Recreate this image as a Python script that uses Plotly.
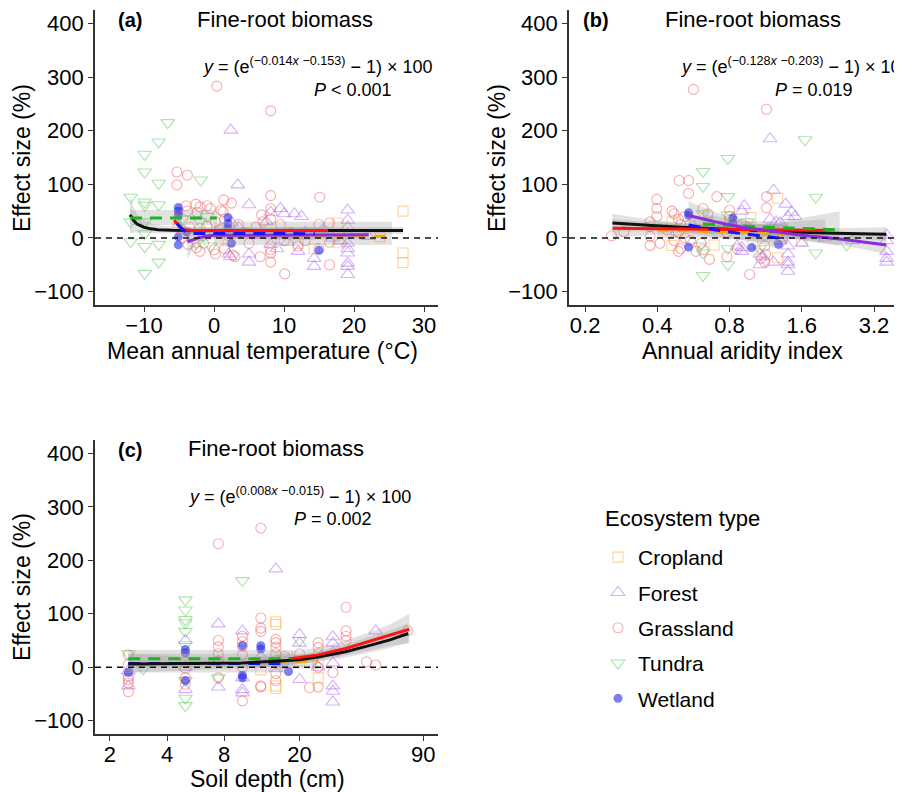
import plotly.graph_objects as go

# ---------------- DATA ----------------
TYPES = ["Cropland", "Forest", "Grassland", "Tundra", "Wetland"]

# Panel (a): mean annual temperature (°C)
A_CROP_X = [27, 27, 27, 17.7, 17.7, 14.3, 23.7, 8.1, 2.0, 12.0]
A_CROP_Y = [50, -28, -46, 28, -9, -20, 2, 0, -5, -10]
A_FOR_X = [2.4, 3.4, 5.0, 8.1, 9.5, 10.0, 11.5, 12.5, 19.1, 19.1, 19.1, 19.1, 19.1, 19.1, 19.1, 19.1, 19.1, 19.1,
           2.1, 2.3, 5.0, 5.0, 8.1, 9.0, 14.3, 14.3, 22.0, 3.5, 6.5, 10.5, 13.0, 15.5, 18.0, 7.5, 12.0, 2.5, 17.0]
A_FOR_Y = [201, 99, 62, 48, 55, 45, 45, 40, 52, 33, 20, 8, -10, -20, -28, -47, -53, -68,
           -30, -35, -30, -45, -12, -20, -38, -53, 3, 20, 5, -8, 10, 15, -5, 30, -25, 28, 0]
A_GRA_X = [0.4, 8.1, -5.3, -3.8, -5.3, 1.4, 8.1, 15.1, -4.0, -2.6, -2.0, -1.0, -3.8, -2.4, -0.5, 1.0, 1.3, 2.5, 6.8,
           -5.2, -3.5, -2.0, -1.0, 0.2, 1.5, 0.8, 2.0, -3.7, -2.5, -2.0, 0.2, 1.5, 2.7, 3.0,
           5.0, 6.6, 8.1, 8.1, 8.1, 10.1, 8.1, 8.1, 7.0, 9.5, 11.0, 12.0, 13.0,
           15.0, 16.5, 16.5, 16.5, 15.0, 4.5, 3.5, 6.0, -4.5, -3.0, 10.0, -1.5, 0.0]
A_GRA_Y = [283, 237, 123, 117, 99, 71, 79, 76, 60, 63, 58, 60, 50, 48, 55, 52, 49, 65, 43,
           20, 20, 18, 22, 30, 35, 15, 5, -12, -18, -25, -30, -20, -32, -35,
           -10, -35, -22, -28, -45, -67, 35, 55, 30, 25, 10, -15, -5,
           25, 28, -8, -50, -20, 10, 25, 20, 0, 5, -5, -10, -22]
A_TUN_X = [-11.9, -6.6, -7.9, -9.9, -9.9, -7.9, -1.9, -9.9, -9.9, -7.9, -11.9, -9.9, -11.9, -9.9, -7.9, -7.9, -9.9,
           -9.9, -2.0, -1.5, -0.5, -2.5, -1.0, -4.5]
A_TUN_Y = [76, 215, 179, 156, 123, 102, 108, 67, 61, 62, 30, 30, -7, -16, -12, -45, -66,
           8, 30, 5, -15, -10, 40, 35]
A_WET_X = [-5.1, -5.1, -5.1, -5.1, -5.1, 2.0, 2.0, 2.0, 2.5, 15.0, -3.9]
A_WET_Y = [57, 50, 43, 2, -13, 38, 27, 17, -10, -23, 11]

# Panel (a) fitted curves and confidence bands
A_ALL_FX = [-12, -11.5, -11, -10, -9, -8, -6, -4, 0, 10, 20, 27]
A_ALL_FY = [43, 33, 26, 20, 17, 15.5, 14.5, 14, 14, 14, 14, 14]
A_ALL_UP = [78, 58, 44, 33, 27, 24, 21, 20, 19, 18, 19, 21]
A_ALL_LO = [8, 10, 10, 9, 9, 9, 9, 9, 9, 10, 9, 7]
A_CROP_FX = [0, 25.4]
A_CROP_FY = [3, 3]
A_CROP_UP = [30, 30]
A_CROP_LO = [-13, -13]
A_FOR_FX = [-3.8, -3, -2, -1, 0, 22.1]
A_FOR_FY = [-7, -3, 1, 3.5, 5, 6]
A_FOR_UP = [12, 12, 12, 12, 12, 15]
A_FOR_LO = [-40, -20, -10, -5, -2, -3]
A_GRA_FX = [-5.7, -5.2, -4.7, -4.2, -3, 16.3]
A_GRA_FY = [33, 25, 18, 15, 14, 14]
A_GRA_UP = [55, 40, 28, 22, 20, 21]
A_GRA_LO = [12, 10, 8, 8, 9, 7]
A_TUN_FX = [-12, 0.4]
A_TUN_FY = [37, 37]
A_TUN_UP = [52, 52]
A_TUN_LO = [24, 24]
A_WET_FX = [-5.3, -4.8, -4.3, -3.8, -3, 14.4]
A_WET_FY = [27, 20, 14, 10, 8.5, 8]
A_WET_UP = [50, 35, 25, 20, 17, 20]
A_WET_LO = [5, 3, 1, 0, 0, -4]

# Panel (b): annual aridity index
B_CROP_X = [0.46, 0.46, 1.27, 0.98, 1.27, 0.69, 1.6, 0.55, 0.48, 1.0]
B_CROP_Y = [30, -14, 74, 38, -37, -13, -5, 22, 15, -10]
B_FOR_X = [1.18, 1.22, 1.37, 0.92, 0.9, 1.4, 1.45, 1.5, 1.18, 1.25, 1.3, 1.4, 1.4, 1.4, 1.4, 1.4, 1.4, 1.07, 1.22,
           3.61, 3.61, 3.61, 3.61, 3.61, 0.9, 0.9, 0.86, 1.6, 1.07, 1.1, 0.95, 1.15, 1.3, 2.0, 2.6, 0.85]
B_FOR_Y = [185, 89, 63, 60, 50, 40, 48, 40, 35, 30, 28, 5, -15, -30, -45, -50, -62, -50, -45,
           5, -5, -25, -38, -45, -18, -25, -15, -10, -30, -35, 20, 15, -5, 0, -5, 30]
B_GRA_X = [0.565, 1.14, 0.493, 0.54, 0.54, 0.398, 0.398, 0.398, 0.708, 1.14, 1.14, 0.258, 0.29, 0.373, 0.373, 0.373,
           0.373, 0.46, 0.47, 0.49, 0.5, 0.49, 0.47, 0.5, 0.49, 0.52, 0.52, 0.58, 0.62, 0.66, 0.61, 0.65, 0.62,
           0.8, 0.8, 0.8, 0.78, 0.78, 0.97, 1.12, 1.12, 1.13, 1.12, 1.08, 0.86, 1.34, 0.41, 0.44, 0.55, 0.9, 1.0]
B_GRA_Y = [277, 240, 107, 107, 83, 72, 55, 40, 77, 77, 56, 4, 12, 30, 21, 3,
           -14, 50, 45, 35, 25, 10, -5, -20, -25, 40, 0, -25, -22, -40, -10, 45, 55,
           52, 40, 33, 10, -35, -68, 5, -15, -30, -45, -38, -20, 3, -10, 15, -5, 25, 10]
B_TUN_X = [0.62, 0.62, 0.787, 0.787, 0.787, 0.787, 0.62, 1.65, 1.83, 1.83, 2.46, 0.62, 0.64, 0.6, 0.62, 1.1, 1.07,
           0.787, 0.7, 0.95]
B_TUN_Y = [124, 96, 148, 77, 43, -50, -70, 183, 76, -28, -13, 45, 33, -15, -28, 13, -20,
           -20, 25, 30]
B_WET_X = [0.54, 0.54, 0.54, 0.825, 0.825, 0.99, 1.28]
B_WET_Y = [47, 42, -17, 37, 28, -18, -12]

B_ALL_FX = [0.26, 0.35, 0.5, 0.7, 1.0, 1.5, 2.2, 3.6]
B_ALL_FY = [28, 24, 20, 17, 14, 11, 9, 7]
B_ALL_UP = [45, 36, 28, 23, 19, 18, 18, 20]
B_ALL_LO = [12, 13, 13, 11, 8, 4, 0, -5]
B_CROP_FX = [0.4, 0.7, 1.0, 1.4]
B_CROP_FY = [15, 12, 10, 8]
B_CROP_UP = [30, 25, 25, 28]
B_CROP_LO = [0, 0, -5, -12]
B_FOR_FX = [0.54, 0.7, 0.9, 1.2, 1.6, 2.4, 3.6]
B_FOR_FY = [42, 30, 20, 12, 5, -3, -13]
B_FOR_UP = [68, 48, 32, 22, 14, 8, 5]
B_FOR_LO = [18, 14, 9, 3, -4, -14, -30]
B_GRA_FX = [0.26, 0.5, 1.0, 2.0]
B_GRA_FY = [18, 17, 15, 14]
B_GRA_UP = [35, 25, 25, 35]
B_GRA_LO = [0, 10, 5, -5]
B_TUN_FX = [0.62, 0.9, 1.3, 1.8, 2.3]
B_TUN_FY = [26, 22, 19, 17, 15]
B_TUN_UP = [45, 32, 30, 42, 50]
B_TUN_LO = [8, 10, 5, -8, -15]
B_WET_FX = [0.54, 0.7, 0.9, 1.1, 1.28]
B_WET_FY = [24, 15, 8, 3, 0]
B_WET_UP = [40, 28, 20, 18, 20]
B_WET_LO = [8, 2, -4, -12, -20]

# Panel (c): soil depth (cm)
C_CROP_X = [15, 15, 15, 15, 25.1, 20, 25.1, 12.5]
C_CROP_Y = [85, 80, -35, -40, -20, 12, 8, -5]
C_FOR_X = [15, 2.5, 2.5, 5, 5, 5, 7.46, 7.46, 10, 10, 10, 10, 20, 20, 20, 30, 30, 30, 30, 30, 30, 30, 50.5, 15,
           25.1, 7.46, 12.5]
C_FOR_Y = [184, -35, -7, 50, 0, -42, 81, -37, 68, -42, -48, -20, 61, 45, -23, 57, 45, 27, 8, -35, -45, -65, 68, -2,
           0, 10, 20]
C_GRA_X = [7.46, 12.5, 35.2, 35.2, 35.2, 35.2, 74.5, 45.2, 50.5, 2.5, 2.5, 2.5, 2.5, 2.5, 5, 5, 7.46, 7.46, 7.46,
           7.46, 7.46, 10, 10, 10, 10, 10, 12.5, 12.5, 12.5, 12.5, 12.5, 15, 15, 15, 15, 15, 15, 15, 25.1, 25.1,
           25.1, 25.1, 22.6, 25.1, 30, 20, 5, 16.7, 12.5, 10, 5, 2.5]
C_GRA_Y = [231, 260, 112, 68, 58, 50, 68, 10, 4, -46, -17, -23, -30, 23, -20, -32, 50, 38, 25,
           12, -20, 58, 48, 39, 23, -63, 92, 73, 67, -35, -37, 52, 46, 37, 25, 12, -12, -25, 46, 37,
           25, 0, -38, -37, -10, 25, -2, 20, 10, 0, 10, 5]
C_TUN_X = [10, 5, 5, 5, 5, 5, 5, 5, 5, 2.5, 3.0, 7.46, 20, 5]
C_TUN_Y = [162, 126, 107, 89, 83, 67, 42, -72, -58, 25, -3, -20, 50, -25]
C_WET_X = [5, 5, 10, 10, 12.5, 12.5, 17.5, 2.5, 5, 10]
C_WET_Y = [33, 27, 40, -20, 40, 34, -8, -10, -25, -15]

C_ALL_FX = [2.5, 5, 10, 15, 20, 25, 35, 45, 60, 75]
C_ALL_FY = [6, 6.5, 8, 11, 14, 19, 29, 39, 51, 63]
C_ALL_UP = [25, 20, 18, 20, 23, 30, 42, 55, 68, 82]
C_ALL_LO = [-10, -6, -2, 2, 6, 10, 18, 26, 36, 46]
C_CROP_FX = [15, 25]
C_CROP_FY = [11, 11]
C_CROP_UP = [25, 25]
C_CROP_LO = [-3, -3]
C_GRA_FX = [18, 25, 35, 45, 60, 76]
C_GRA_FY = [16, 23, 35, 47, 60, 71]
C_GRA_UP = [30, 36, 50, 63, 80, 100]
C_GRA_LO = [4, 12, 22, 30, 40, 45]
C_TUN_FX = [2.5, 18.5]
C_TUN_FY = [16, 16]
C_TUN_UP = [32, 32]
C_TUN_LO = [0, 0]
C_WET_FX = [2.5, 17.5]
C_WET_FY = [7, 7]
C_WET_UP = [25, 25]
C_WET_LO = [-10, -10]

# Tick values / labels
Y_TICKS = [-100, 0, 100, 200, 300, 400]
Y_TICKTEXT = ["\u2212100", "0", "100", "200", "300", "400"]
A_XTICKS = [-10, 0, 10, 20, 30]
A_XTICKTEXT = ["\u221210", "0", "10", "20", "30"]
B_XTICKS = [0.2, 0.4, 0.8, 1.6, 3.2]
B_XTICKTEXT = ["0.2", "0.4", "0.8", "1.6", "3.2"]
C_XTICKS = [2, 4, 8, 20, 90]
C_XTICKTEXT = ["2", "4", "8", "20", "90"]

# ---------------- STYLE ----------------
FONT = "Liberation Sans, Arial, sans-serif"
W, H = 902, 792
OFF = 8  # page body margin of the html page
MARKERS = {
    "Cropland": dict(symbol="square-open", size=10, color="rgba(255,170,60,0.5)", lw=1.1),
    "Forest": dict(symbol="triangle-up-open", size=12, color="rgba(170,100,245,0.5)", lw=1.1),
    "Grassland": dict(symbol="circle-open", size=10, color="rgba(245,90,90,0.5)", lw=1.1),
    "Tundra": dict(symbol="triangle-down-open", size=12, color="rgba(90,200,90,0.5)", lw=1.1),
    "Wetland": dict(symbol="circle", size=9, color="rgba(40,40,235,0.6)", lw=0),
}
LINES = {
    "All": dict(color="#111111", width=3, dash="solid"),
    "Cropland": dict(color="#FFA500", width=3, dash="12px,8px"),
    "Forest": dict(color="#8E2BE0", width=3, dash="solid"),
    "Grassland": dict(color="#FF1414", width=3, dash="solid"),
    "Tundra": dict(color="#1DB51D", width=3, dash="12px,8px"),
    "Wetland": dict(color="#1414FF", width=3, dash="12px,8px"),
}
RIBBON = "rgba(150,150,150,0.28)"

fig = go.Figure()

panels = {
    "a": dict(xa="x", ya="y",
              pts={"Cropland": (A_CROP_X, A_CROP_Y), "Forest": (A_FOR_X, A_FOR_Y),
                   "Grassland": (A_GRA_X, A_GRA_Y), "Tundra": (A_TUN_X, A_TUN_Y), "Wetland": (A_WET_X, A_WET_Y)},
              fits=[("All", A_ALL_FX, A_ALL_FY, A_ALL_UP, A_ALL_LO),
                    ("Cropland", A_CROP_FX, A_CROP_FY, A_CROP_UP, A_CROP_LO),
                    ("Forest", A_FOR_FX, A_FOR_FY, A_FOR_UP, A_FOR_LO),
                    ("Tundra", A_TUN_FX, A_TUN_FY, A_TUN_UP, A_TUN_LO),
                    ("Grassland", A_GRA_FX, A_GRA_FY, A_GRA_UP, A_GRA_LO),
                    ("Wetland", A_WET_FX, A_WET_FY, A_WET_UP, A_WET_LO)]),
    "b": dict(xa="x2", ya="y2",
              pts={"Cropland": (B_CROP_X, B_CROP_Y), "Forest": (B_FOR_X, B_FOR_Y),
                   "Grassland": (B_GRA_X, B_GRA_Y), "Tundra": (B_TUN_X, B_TUN_Y), "Wetland": (B_WET_X, B_WET_Y)},
              fits=[("All", B_ALL_FX, B_ALL_FY, B_ALL_UP, B_ALL_LO),
                    ("Cropland", B_CROP_FX, B_CROP_FY, B_CROP_UP, B_CROP_LO),
                    ("Grassland", B_GRA_FX, B_GRA_FY, B_GRA_UP, B_GRA_LO),
                    ("Tundra", B_TUN_FX, B_TUN_FY, B_TUN_UP, B_TUN_LO),
                    ("Forest", B_FOR_FX, B_FOR_FY, B_FOR_UP, B_FOR_LO),
                    ("Wetland", B_WET_FX, B_WET_FY, B_WET_UP, B_WET_LO)]),
    "c": dict(xa="x3", ya="y3",
              pts={"Cropland": (C_CROP_X, C_CROP_Y), "Forest": (C_FOR_X, C_FOR_Y),
                   "Grassland": (C_GRA_X, C_GRA_Y), "Tundra": (C_TUN_X, C_TUN_Y), "Wetland": (C_WET_X, C_WET_Y)},
              fits=[("Cropland", C_CROP_FX, C_CROP_FY, C_CROP_UP, C_CROP_LO),
                    ("Tundra", C_TUN_FX, C_TUN_FY, C_TUN_UP, C_TUN_LO),
                    ("Wetland", C_WET_FX, C_WET_FY, C_WET_UP, C_WET_LO),
                    ("All", C_ALL_FX, C_ALL_FY, C_ALL_UP, C_ALL_LO),
                    ("Grassland", C_GRA_FX, C_GRA_FY, C_GRA_UP, C_GRA_LO)]),
}

for key, p in panels.items():
    for t in TYPES:
        xs, ys = p["pts"][t]
        m = MARKERS[t]
        fig.add_trace(go.Scatter(
            x=xs, y=ys, mode="markers", name=t, legendgroup=t, showlegend=(key == "a"),
            xaxis=p["xa"], yaxis=p["ya"],
            marker=dict(symbol=m["symbol"], size=m["size"], color=m["color"],
                        line=dict(width=m["lw"], color=m["color"])),
            hoverinfo="skip"))
    for name, fx, fy, up, lo in p["fits"]:
        fig.add_trace(go.Scatter(
            x=list(fx) + list(fx)[::-1], y=list(up) + list(lo)[::-1], fill="toself",
            fillcolor=RIBBON, line=dict(width=0), mode="lines", showlegend=False,
            xaxis=p["xa"], yaxis=p["ya"], hoverinfo="skip"))
    for name, fx, fy, up, lo in p["fits"]:
        fig.add_trace(go.Scatter(
            x=fx, y=fy, mode="lines", line=LINES[name], showlegend=False,
            xaxis=p["xa"], yaxis=p["ya"], hoverinfo="skip"))


def xd(a, b):
    return [(a - OFF) / W, min(1.0, (b - OFF) / W)]


def yd(top, bot):
    return [1 - (bot - OFF) / H, 1 - (top - OFF) / H]


axis_common = dict(showline=True, linecolor="#333333", linewidth=1.6, ticks="outside", ticklen=5,
                   tickwidth=1.3, tickcolor="#333333", showgrid=False, zeroline=False,
                   tickfont=dict(family=FONT, size=22, color="#000000"))
xaxis_extra = dict(ticklabelstandoff=-5)

fig.update_layout(
    width=W, height=H, margin=dict(l=0, r=0, t=0, b=0),
    paper_bgcolor="white", plot_bgcolor="white",
    font=dict(family=FONT, color="#000000"),
    xaxis=dict(domain=xd(95, 438), range=[-17, 32], tickvals=A_XTICKS, ticktext=A_XTICKTEXT,
               anchor="y", **axis_common, **xaxis_extra),
    yaxis=dict(domain=yd(10, 305), range=[-125, 425], tickvals=Y_TICKS, ticktext=Y_TICKTEXT,
               anchor="x", **axis_common),
    xaxis2=dict(domain=xd(569, 910), type="log", range=[-0.766, 0.655], tickvals=B_XTICKS,
                ticktext=B_XTICKTEXT, anchor="y2", **axis_common, **xaxis_extra),
    yaxis2=dict(domain=yd(10, 305), range=[-125, 425], tickvals=Y_TICKS, ticktext=Y_TICKTEXT,
                anchor="x2", **axis_common),
    xaxis3=dict(domain=xd(95, 438), type="log", range=[0.222, 2.032], tickvals=C_XTICKS,
                ticktext=C_XTICKTEXT, anchor="y3", **axis_common, **xaxis_extra),
    yaxis3=dict(domain=yd(440, 734), range=[-125, 425], tickvals=Y_TICKS, ticktext=Y_TICKTEXT,
                anchor="x3", **axis_common),
    legend=dict(x=(598 - OFF) / W, y=1 - (537 - OFF) / H, xanchor="left", yanchor="top",
                font=dict(family=FONT, size=21), tracegroupgap=5, bgcolor="rgba(0,0,0,0)"),
)

# zero reference lines
for xa, ya in [("x", "y"), ("x2", "y2"), ("x3", "y3")]:
    fig.add_shape(type="line", xref=f"{xa} domain", yref=ya, x0=0, x1=1, y0=0, y1=0,
                  line=dict(color="#111111", width=1.4, dash="6px,5px"), layer="above")


def ann(text, x, y, size, xanchor="center", bold=False, angle=0):
    fig.add_annotation(text=f"<b>{text}</b>" if bold else text, xref="paper", yref="paper",
                       x=(x - OFF) / W, y=1 - (y - OFF) / H, xanchor=xanchor, yanchor="middle",
                       showarrow=False, textangle=angle,
                       font=dict(family=FONT, size=size, color="#000000"))


# panel labels and titles
ann("(a)", 130, 20, 20, bold=True)
ann("Fine-root biomass", 285, 20, 22)
ann("(b)", 596, 20, 20, bold=True)
ann("Fine-root biomass", 753, 20, 22)
ann("(c)", 130, 450, 20, bold=True)
ann("Fine-root biomass", 276, 449, 22)

# equations
ann("<i>y</i> = (e<sup>(\u22120.014<i>x</i> \u22120.153)</sup> \u2212 1) \u00d7 100", 435, 66, 18, xanchor="right")
ann("<i>P</i> < 0.001", 353, 90, 18)
ann("<i>y</i> = (e<sup>(\u22120.128<i>x</i> \u22120.203)</sup> \u2212 1) \u00d7 100", 678, 66, 18, xanchor="left")
ann("<i>P</i> = 0.019", 814, 90, 18)
ann("<i>y</i> = (e<sup>(0.008<i>x</i> \u22120.015)</sup> \u2212 1) \u00d7 100", 413, 495, 18, xanchor="right")
ann("<i>P</i> = 0.002", 333, 519, 18)

# axis titles
ann("Effect size (%)", 22, 158, 23, angle=-90)
ann("Effect size (%)", 497, 158, 23, angle=-90)
ann("Effect size (%)", 22, 587, 23, angle=-90)
ann("Mean annual temperature (\u00b0C)", 262, 351, 23)
ann("Annual aridity index", 742, 351, 23)
ann("Soil depth (cm)", 267, 779, 23)

# legend title
ann("Ecosystem type", 603, 518, 22, xanchor="left")

fig.write_html("out.html")
